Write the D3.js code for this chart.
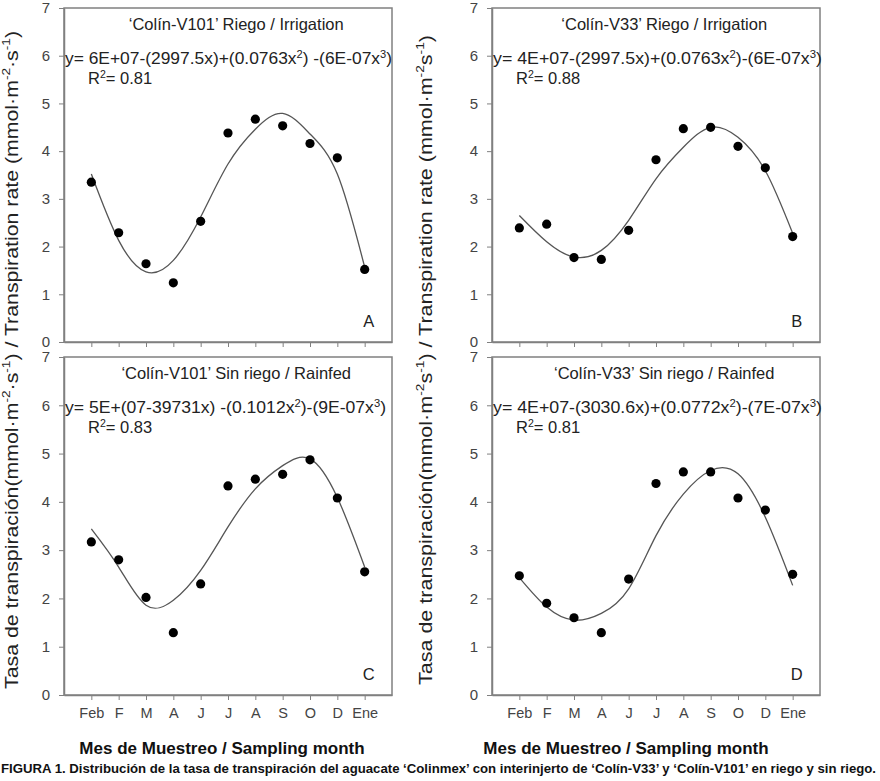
<!DOCTYPE html>
<html>
<head>
<meta charset="utf-8">
<script src="https://cdn.jsdelivr.net/npm/d3@7"></script>
<style>
  body { margin: 0; background: #fff; }
  svg { display: block; font-family: "Liberation Sans", Arial, sans-serif; }
</style>
</head>
<body>
<svg id="chart" width="880" height="781"></svg>
<script>
// sampling months (Feb ... Ene)
const months = ["Feb", "F", "M", "A", "J", "J", "A", "S", "O", "D", "Ene"];
const yTicks = [0, 1, 2, 3, 4, 5, 6, 7];

const obsA = [3.35, 2.29, 1.64, 1.24, 2.53, 4.38, 4.67, 4.53, 4.16, 3.86, 1.52];
const obsB = [2.39, 2.47, 1.77, 1.73, 2.34, 3.82, 4.47, 4.50, 4.10, 3.65, 2.21];
const obsC = [3.17, 2.80, 2.02, 1.29, 2.30, 4.33, 4.47, 4.57, 4.87, 4.08, 2.55];
const obsD = [2.47, 1.90, 1.60, 1.29, 2.40, 4.38, 4.62, 4.62, 4.08, 3.83, 2.50];

// fitted cubic trend at each month
const fitA = [3.52, 2.13, 1.47, 1.71, 2.62, 3.73, 4.46, 4.79, 4.36, 3.52, 1.57];
const fitB = [2.65, 2.10, 1.78, 1.92, 2.55, 3.42, 4.08, 4.50, 4.29, 3.59, 2.28];
const fitC = [3.44, 2.65, 1.86, 1.96, 2.58, 3.48, 4.27, 4.75, 4.89, 4.09, 2.65];
const fitD = [2.43, 1.82, 1.55, 1.69, 2.20, 3.30, 4.16, 4.65, 4.58, 3.68, 2.27];

const titles = [
  "\u2018Colín-V101\u2019 Riego / Irrigation",
  "\u2018Colín-V33\u2019 Riego / Irrigation",
  "\u2018Colín-V101\u2019 Sin riego / Rainfed",
  "\u2018Colín-V33\u2019 Sin riego / Rainfed"
];
const equations = [
  "y= 6E+07-(2997.5x)+(0.0763x^{2}) -(6E-07x^{3})",
  "y= 4E+07-(2997.5x)+(0.0763x^{2})-(6E-07x^{3})",
  "y= 5E+(07-39731x) -(0.1012x^{2})-(9E-07x^{3})",
  "y= 4E+07-(3030.6x)+(0.0772x^{2})-(7E-07x^{3})"
];
const r2 = ["0.81", "0.88", "0.83", "0.81"];
const letters = ["A", "B", "C", "D"];
const yTitles = [
  "Tasa de transpiración(mmol·m^{-2}·s^{-1}) / Transpiration rate (mmol·m^{-2}·s^{-1})",
  "Tasa de transpiración(mmol·m^{-2}s^{-1}) / Transpiration rate (mmol·m^{-2}s^{-1})"
];
const xTitle = "Mes de Muestreo / Sampling month";
const caption = "FIGURA 1. Distribución de la tasa de transpiración del aguacate \u2018Colinmex\u2019 con interinjerto de \u2018Colín-V33\u2019 y \u2018Colín-V101\u2019 en riego y sin riego.";

const svg = d3.select("#chart");
const gray = "#808080";

// panel boxes: left, top (y=7), bottom (y=0), equation width
const boxes = [
  { x0: 64, top: 8, bottom: 342, obs: obsA, fit: fitA, labels: false, eqW: 327 },
  { x0: 492, top: 8, bottom: 342, obs: obsB, fit: fitB, labels: false, eqW: 329 },
  { x0: 64, top: 357, bottom: 695, obs: obsC, fit: fitC, labels: true, eqW: 321 },
  { x0: 492, top: 357, bottom: 695, obs: obsD, fit: fitD, labels: true, eqW: 329 }
];
const W = 328;

function richText(sel, str) {
  // "^{..}" -> superscript
  str.split(/\^\{([^}]*)\}/).forEach((part, i) => {
    if (!part) return;
    const t = sel.append("tspan").text(part);
    if (i % 2) t.attr("baseline-shift", "super").attr("font-size", "64%");
  });
  return sel;
}

boxes.forEach((b, k) => {
  const x = d3.scaleLinear().domain([0, 12]).range([b.x0, b.x0 + W]);
  const y = d3.scaleLinear().domain([0, 7]).range([b.bottom, b.top]);
  const g = svg.append("g");

  g.append("rect")
    .attr("x", x(0)).attr("y", y(7))
    .attr("width", x(12) - x(0)).attr("height", y(0) - y(7))
    .attr("fill", "none").attr("stroke", gray).attr("stroke-width", 1.5);

  const ya = g.append("g")
    .attr("transform", `translate(${x(0)},0)`)
    .call(d3.axisLeft(y).tickValues(yTicks).tickFormat(d3.format("d"))
      .tickSize(5).tickPadding(9).tickSizeOuter(0));
  ya.select(".domain").attr("stroke", gray).attr("stroke-width", 1.5);
  ya.selectAll(".tick line").attr("stroke", gray);
  ya.selectAll(".tick text")
    .attr("font-size", 15).attr("fill", "#444")
    .attr("font-family", "Liberation Sans, Arial, sans-serif");

  const xa = g.append("g")
    .attr("transform", `translate(0,${y(0)})`)
    .call(d3.axisBottom(x).tickValues(d3.range(1, 12))
      .tickFormat(i => b.labels ? months[i - 1] : "")
      .tickSize(5).tickPadding(8).tickSizeOuter(0));
  xa.select(".domain").attr("stroke", gray).attr("stroke-width", 1.5);
  xa.selectAll(".tick line").attr("stroke", gray);
  xa.selectAll(".tick text")
    .attr("font-size", 14.5).attr("fill", "#444")
    .attr("font-family", "Liberation Sans, Arial, sans-serif");

  const line = d3.line()
    .x((d, i) => x(i + 1))
    .y(d => y(d))
    .curve(d3.curveNatural);
  g.append("path")
    .datum(b.fit)
    .attr("d", line)
    .attr("fill", "none").attr("stroke", "#555").attr("stroke-width", 1.3);

  g.selectAll("circle.pt")
    .data(b.obs)
    .join("circle")
    .attr("class", "pt")
    .attr("cx", (d, i) => x(i + 1))
    .attr("cy", d => y(d))
    .attr("r", 4.6)
    .attr("fill", "#000");

  g.append("text")
    .attr("x", x(6.3)).attr("y", y(7) + 22)
    .attr("text-anchor", "middle")
    .attr("font-size", 16.5).attr("fill", "#222")
    .text(titles[k]);

  richText(g.append("text")
    .attr("x", x(0) + 1).attr("y", y(6) + 8)
    .attr("textLength", b.eqW).attr("lengthAdjust", "spacingAndGlyphs")
    .attr("font-size", 16.5).attr("fill", "#222"), equations[k]);

  richText(g.append("text")
    .attr("x", x(0) + 24).attr("y", y(6) + 28)
    .attr("font-size", 16.5).attr("fill", "#222"), "R^{2}= " + r2[k]);

  g.append("text")
    .attr("x", x(11.15)).attr("y", y(0) - 15)
    .attr("text-anchor", "middle")
    .attr("font-size", 16.5).attr("fill", "#222")
    .text(letters[k]);
});

// y axis titles
[13, 427].forEach((tx, i) => {
  richText(svg.append("text")
    .attr("transform", `translate(${tx},360) rotate(-90)`)
    .attr("text-anchor", "middle")
    .attr("dominant-baseline", "middle")
    .attr("textLength", i ? 650 : 658).attr("lengthAdjust", "spacingAndGlyphs")
    .attr("font-family", "Liberation Sans Narrow, Arial Narrow, sans-serif")
    .attr("font-size", 18).attr("fill", "#222"), yTitles[i]);
});

// x axis titles
[222, 626].forEach(cx => {
  svg.append("text")
    .attr("x", cx).attr("y", 754)
    .attr("text-anchor", "middle")
    .attr("font-family", "Liberation Sans Narrow, Arial Narrow, sans-serif")
    .attr("font-weight", "bold").attr("font-size", 17).attr("fill", "#111")
    .text(xTitle);
});

svg.append("text")
  .attr("x", 1).attr("y", 773)
  .attr("textLength", 875).attr("lengthAdjust", "spacingAndGlyphs")
  .attr("font-family", "Liberation Sans Narrow, Arial Narrow, sans-serif")
  .attr("font-weight", "bold").attr("font-size", 13).attr("fill", "#111")
  .text(caption);
</script>
</body>
</html>
